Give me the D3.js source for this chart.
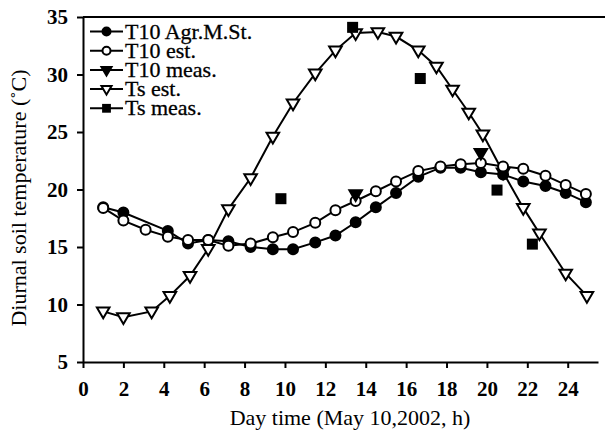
<!DOCTYPE html>
<html>
<head>
<meta charset="utf-8">
<script src="https://cdn.jsdelivr.net/npm/d3@7"></script>
<style>
  body { margin: 0; background: #fff; }
  text { font-family: "Liberation Serif", "Times New Roman", serif; }
</style>
</head>
<body>
<div id="canvas"></div>
<script>
"use strict"

let svgWidth = 605;
let svgHeight = 436;

/* T10 series share the same hours */
let t10Hours = [1, 2, 3.1, 4.2, 5.2, 6.2, 7.2, 8.3, 9.4, 10.4, 11.5, 12.5, 13.5, 14.5, 15.5, 16.6, 17.7, 18.7, 19.7, 20.8, 21.8, 22.9, 23.9, 24.9];
let t10Agr = [18.45, 18.0, null, 16.4, 15.3, 15.6, 15.5, 15.0, 14.8, 14.8, 15.4, 16.0, 17.15, 18.45, 19.7, 21.1, 21.9, 21.9, 21.5, 21.3, 20.7, 20.3, 19.7, 18.9];
let t10Est = [18.4, 17.3, 16.5, 15.9, 15.6, 15.6, 15.1, 15.3, 15.85, 16.3, 17.1, 18.2, 19.0, 19.85, 20.7, 21.6, 22.0, 22.2, 22.3, 22.0, 21.8, 21.2, 20.4, 19.6];

let t10MeasHours = [13.5, 19.7];
let t10Meas = [19.6, 23.2];

let tsEstHours = [1, 2, 3.4, 4.3, 5.3, 6.2, 7.2, 8.3, 9.4, 10.4, 11.5, 12.5, 13.5, 14.6, 15.5, 16.6, 17.5, 18.3, 19.1, 19.8, 20.8, 21.8, 22.6, 23.9, 24.95];
let tsEst = [9.4, 8.9, 9.4, 10.75, 12.5, 14.85, 18.3, 21.0, 24.6, 27.5, 30.1, 32.1, 33.6, 33.7, 33.3, 32.1, 30.7, 28.7, 26.7, 24.8, 21.5, 18.4, 16.2, 12.7, 10.75];

let tsMeasHours = [9.8, 13.35, 16.7, 20.5, 22.25];
let tsMeas = [19.2, 34.1, 29.65, 19.95, 15.25];

let xTicks = [0, 2, 4, 6, 8, 10, 12, 14, 16, 18, 20, 22, 24];
let yTicks = [5, 10, 15, 20, 25, 30, 35];

let legendLabels = ["T10 Agr.M.St.", "T10 est.", "T10 meas.", "Ts est.", "Ts meas."];
let legendShapes = ["fcircle", "ocircle", "ftri", "otri", "square"];

function pairs(xs, ys) {
    return xs.map((x, i) => ({x: x, y: ys[i]})).filter(d => d.y != null);
}

let svg = d3.select("#canvas")
    .append("svg")
    .attr("width", svgWidth)
    .attr("height", svgHeight);

let xScale = d3.scaleLinear()
    .domain([0, 25.5])
    .range([83, 598]);

let yScale = d3.scaleLinear()
    .domain([5, 35])
    .range([362, 17]);

/* axes */
let xAxis = svg.append("g")
    .attr("transform", "translate(0," + yScale(5) + ")")
    .call(d3.axisBottom(xScale).tickValues(xTicks).tickSize(6).tickPadding(13).tickSizeOuter(0));

let yAxis = svg.append("g")
    .attr("transform", "translate(" + xScale(0) + ",0)")
    .call(d3.axisLeft(yScale).tickValues(yTicks).tickSize(6).tickPadding(9).tickSizeOuter(0));

[xAxis, yAxis].forEach(function(ax) {
    ax.select(".domain").attr("stroke-width", 2);
    ax.selectAll(".tick line").attr("stroke-width", 2);
    ax.selectAll(".tick text")
        .attr("font-size", 21)
        .attr("font-weight", "bold")
        .attr("font-family", "Liberation Serif")
        .attr("fill", "#000");
});

/* top frame line */
svg.append("line")
    .attr("x1", xScale(0))
    .attr("x2", svgWidth)
    .attr("y1", yScale(35))
    .attr("y2", yScale(35))
    .attr("stroke", "black")
    .attr("stroke-width", 2);

/* marker drawing, k scales the marker */
function drawMarker(g, shape, cx, cy, k) {
    if (shape === "fcircle" || shape === "ocircle") {
        g.append("circle")
            .attr("cx", cx).attr("cy", cy).attr("r", 5 * k)
            .attr("fill", shape === "fcircle" ? "black" : "white")
            .attr("stroke", "black").attr("stroke-width", 2);
    } else if (shape === "ftri" || shape === "otri") {
        let s = 6.3 * k;
        g.append("path")
            .attr("d", "M" + (cx - s) + "," + (cy - s * 0.6) + "L" + (cx + s) + "," + (cy - s * 0.6) + "L" + cx + "," + (cy + s * 1.1) + "Z")
            .attr("fill", shape === "ftri" ? "black" : "white")
            .attr("stroke", "black").attr("stroke-width", 2)
            .attr("stroke-linejoin", "miter");
    } else {
        let h = 5.5 * k;
        g.append("rect")
            .attr("x", cx - h).attr("y", cy - h)
            .attr("width", 2 * h).attr("height", 2 * h)
            .attr("fill", "black");
    }
}

let line = d3.line()
    .x(d => xScale(d.x))
    .y(d => yScale(d.y));

let series = [
    {data: pairs(tsEstHours, tsEst), shape: "otri", joined: true},
    {data: pairs(t10Hours, t10Agr), shape: "fcircle", joined: true},
    {data: pairs(t10Hours, t10Est), shape: "ocircle", joined: true},
    {data: pairs(t10MeasHours, t10Meas), shape: "ftri", joined: false},
    {data: pairs(tsMeasHours, tsMeas), shape: "square", joined: false}
];

series.forEach(function(s) {
    if (s.joined) {
        svg.append("path")
            .datum(s.data)
            .attr("d", line)
            .attr("fill", "none")
            .attr("stroke", "black")
            .attr("stroke-width", 2);
    }
});

series.forEach(function(s) {
    let g = svg.append("g");
    s.data.forEach(function(d) {
        drawMarker(g, s.shape, xScale(d.x), yScale(d.y), 1);
    });
});

/* legend */
legendLabels.forEach(function(label, i) {
    let y = 31.5 + i * 19.2;
    svg.append("line")
        .attr("x1", 90).attr("x2", 123)
        .attr("y1", y).attr("y2", y)
        .attr("stroke", "black").attr("stroke-width", 2);
    drawMarker(svg.append("g"), legendShapes[i], 106.5, y, 0.8);
    svg.append("text")
        .attr("x", 125)
        .attr("y", y + 7)
        .attr("font-size", 22)
        .attr("stroke", "black")
        .attr("stroke-width", 0.3)
        .text(label);
});

/* axis titles */
svg.append("text")
    .attr("x", 350)
    .attr("y", 425)
    .attr("text-anchor", "middle")
    .attr("font-size", 22)
    .text("Day time (May 10,2002, h)");

svg.append("text")
    .attr("transform", "rotate(-90)")
    .attr("x", -198)
    .attr("y", 26)
    .attr("text-anchor", "middle")
    .attr("font-size", 22)
    .text("Diurnal soil temperature (˚C)");
</script>
</body>
</html>
